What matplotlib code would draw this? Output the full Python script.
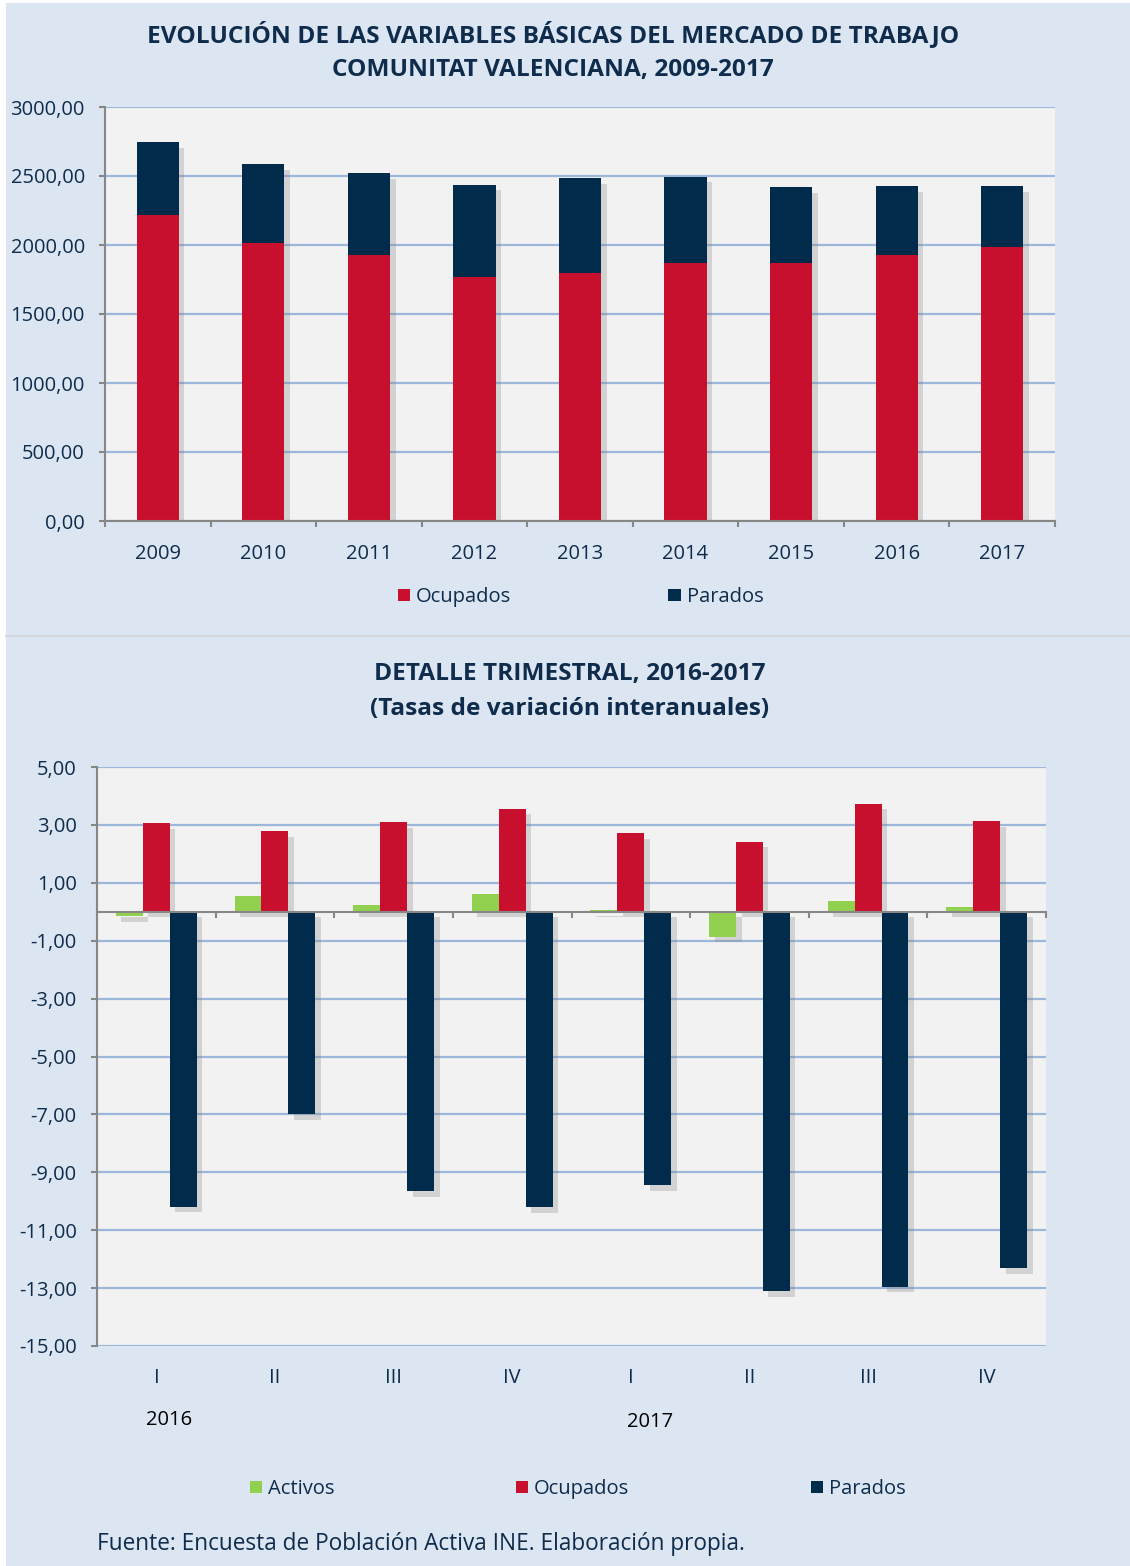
import matplotlib
matplotlib.use("Agg")
import matplotlib.pyplot as plt
import matplotlib.patheffects as pe
from matplotlib.patches import Rectangle
from matplotlib.lines import Line2D
import numpy as np

# ---------------- data ----------------
years = ["2009", "2010", "2011", "2012", "2013", "2014", "2015", "2016", "2017"]
ocupados_anual = [2217, 2014, 1927, 1768, 1795, 1869, 1869, 1927, 1985]
parados_anual = [529, 573, 595, 669, 688, 626, 549, 500, 440]
top_yticks = [0, 500, 1000, 1500, 2000, 2500, 3000]

quarters = ["I", "II", "III", "IV", "I", "II", "III", "IV"]
quarter_years = ["2016", "2017"]
activos_q = [-0.15, 0.54, 0.23, 0.60, 0.06, -0.87, 0.37, 0.16]
ocupados_q = [3.05, 2.79, 3.09, 3.56, 2.71, 2.42, 3.73, 3.12]
parados_q = [-10.19, -6.99, -9.65, -10.21, -9.44, -13.11, -12.96, -12.32]
bot_yticks = [5, 3, 1, -1, -3, -5, -7, -9, -11, -13, -15]

# ---------------- style ----------------
W, H = 1130, 1566
BG = "#DCE6F2"
PLOT_BG = "#F2F2F2"
GRID = "#9DB7DB"
AXC = "#878787"
TXT = "#0F2C4C"
RED = "#C8102E"
NAVY = "#002B4A"
GREEN = "#92D050"
FONT = "Open Sans"
FS = 14.5
TFS = 17.6

plt.rcParams["font.family"] = [FONT, "DejaVu Sans"]

fig = plt.figure(figsize=(W / 100, H / 100), dpi=100, facecolor=BG)

def fx(px):
    return px / W

def fy(py):
    return 1 - py / H

# white strips at left and top, and separator
fig.patches.append(Rectangle((0, 0), fx(6), 1, transform=fig.transFigure,
                             facecolor="white", edgecolor="none", zorder=0))
fig.patches.append(Rectangle((0, fy(3)), 1, fy(0) - fy(3), transform=fig.transFigure,
                             facecolor="white", edgecolor="none", zorder=0))
fig.lines.append(Line2D([fx(6), 1], [fy(636), fy(636)], transform=fig.transFigure,
                        color="#D4D8DD", lw=1.5))

shadow = [pe.SimplePatchShadow(offset=(4, -4), shadow_rgbFace="#7F7F7F", alpha=0.28),
          pe.Normal()]

def proxy(color):
    return Rectangle((0, 0), 1, 1, facecolor=color, edgecolor="none")

def style_y(ax):
    ax.tick_params(axis="y", length=4.5, width=1.5, color=AXC, pad=10, labelsize=FS,
                   labelcolor=TXT)

# ---------------- top chart ----------------
ax1 = fig.add_axes([fx(105), fy(521), fx(1055) - fx(105), fy(107) - fy(521)])
ax1.set_facecolor(PLOT_BG)
x = np.arange(len(years))
b2 = ax1.bar(x, parados_anual, width=0.40, bottom=ocupados_anual, color=NAVY,
             label="Parados", zorder=3)
b1 = ax1.bar(x, ocupados_anual, width=0.40, color=RED, label="Ocupados", zorder=4)
for b in list(b1) + list(b2):
    b.set_path_effects(shadow)
ax1.set_xlim(-0.5, len(years) - 0.5)
ax1.set_ylim(0, 3000)
ax1.set_yticks(top_yticks)
ax1.set_yticklabels([f"{v:.2f}".replace(".", ",") for v in top_yticks])
ax1.yaxis.grid(True, color=GRID, lw=1.6, zorder=0)
ax1.set_axisbelow(True)
for s in ["top", "right"]:
    ax1.spines[s].set_visible(False)
for s in ["left", "bottom"]:
    ax1.spines[s].set_color(AXC)
    ax1.spines[s].set_linewidth(1.5)
    ax1.spines[s].set_zorder(5)
ax1.set_xticks(np.arange(-0.5, len(years)), minor=True)
ax1.set_xticks(x)
ax1.set_xticklabels(years)
ax1.tick_params(axis="x", which="major", length=0, pad=16.5, labelsize=FS, labelcolor=TXT)
ax1.tick_params(axis="x", which="minor", length=4.5, width=1.5, color=AXC)
style_y(ax1)

fig.text(fx(553), fy(35), "EVOLUCIÓN DE LAS VARIABLES BÁSICAS DEL MERCADO DE TRABAJO",
         ha="center", va="center", fontsize=TFS, fontweight="bold", color=TXT)
fig.text(fx(553), fy(70), "COMUNITAT VALENCIANA, 2009-2017",
         ha="center", va="center", fontsize=TFS, fontweight="bold", color=TXT)

fig.legend(handles=[proxy(RED), proxy(NAVY)], labels=["Ocupados", "Parados"],
           loc="center left", bbox_to_anchor=(fx(398), fy(597)), ncol=2, frameon=False,
           fontsize=FS, handlelength=0.6, handleheight=0.6, handletextpad=0.3,
           columnspacing=7.8, borderpad=0, borderaxespad=0, labelcolor=TXT)

# ---------------- bottom chart ----------------
ax2 = fig.add_axes([fx(97), fy(1346), fx(1046) - fx(97), fy(767) - fy(1346)])
ax2.set_facecolor(PLOT_BG)
xq = np.arange(len(quarters))
bw = 0.227
c1 = ax2.bar(xq - bw, activos_q, width=bw, color=GREEN, label="Activos", zorder=3)
c2 = ax2.bar(xq, ocupados_q, width=bw, color=RED, label="Ocupados", zorder=3)
c3 = ax2.bar(xq + bw, parados_q, width=bw, color=NAVY, label="Parados", zorder=3)
for b in list(c1) + list(c2) + list(c3):
    b.set_path_effects(shadow)
ax2.set_xlim(-0.5, len(quarters) - 0.5)
ax2.set_ylim(-15, 5)
ax2.set_yticks(bot_yticks)
ax2.set_yticklabels([f"{v:.2f}".replace(".", ",") for v in bot_yticks])
ax2.yaxis.grid(True, color=GRID, lw=1.6, zorder=0)
ax2.set_axisbelow(True)
for s in ["top", "right"]:
    ax2.spines[s].set_visible(False)
ax2.spines["left"].set_color(AXC)
ax2.spines["left"].set_linewidth(1.5)
ax2.spines["bottom"].set_position(("data", 0))
ax2.spines["bottom"].set_color(AXC)
ax2.spines["bottom"].set_linewidth(1.5)
ax2.spines["bottom"].set_zorder(4)
ax2.set_xticks(np.arange(-0.5, len(quarters)), minor=True)
ax2.set_xticks([])
ax2.tick_params(axis="x", which="minor", length=4.5, width=1.5, color=AXC, labelbottom=False)
style_y(ax2)
trans = ax2.get_xaxis_transform()
yq = (fy(1378) - fy(1346)) / (fy(767) - fy(1346))
for i, q in enumerate(quarters):
    ax2.text(xq[i], yq, q, transform=trans, ha="center", va="center",
             fontsize=FS, color=TXT)
yy = (fy(1420) - fy(1346)) / (fy(767) - fy(1346))
ax2.text(0.11, yy, quarter_years[0], transform=trans, ha="center", va="center",
         fontsize=FS, color="black")
ax2.text(4.16, yy - 0.004, quarter_years[1], transform=trans, ha="center", va="center",
         fontsize=FS, color="black")

fig.text(fx(570), fy(674), "DETALLE TRIMESTRAL, 2016-2017", ha="center", va="center",
         fontsize=TFS, fontweight="bold", color=TXT)
fig.text(fx(570), fy(709), "(Tasas de variación interanuales)", ha="center", va="center",
         fontsize=TFS, fontweight="bold", color=TXT)

fig.legend(handles=[proxy(GREEN), proxy(RED), proxy(NAVY)],
           labels=["Activos", "Ocupados", "Parados"],
           loc="center left", bbox_to_anchor=(fx(250), fy(1489)), ncol=3,
           frameon=False, fontsize=FS, handlelength=0.6, handleheight=0.6,
           handletextpad=0.3, columnspacing=9.0, borderpad=0, borderaxespad=0,
           labelcolor=TXT)

fig.text(fx(97), fy(1544), "Fuente: Encuesta de Población Activa INE. Elaboración propia.",
         ha="left", va="center", fontsize=16.3, color=TXT)

fig.savefig("out.png", dpi=100, facecolor=BG)
